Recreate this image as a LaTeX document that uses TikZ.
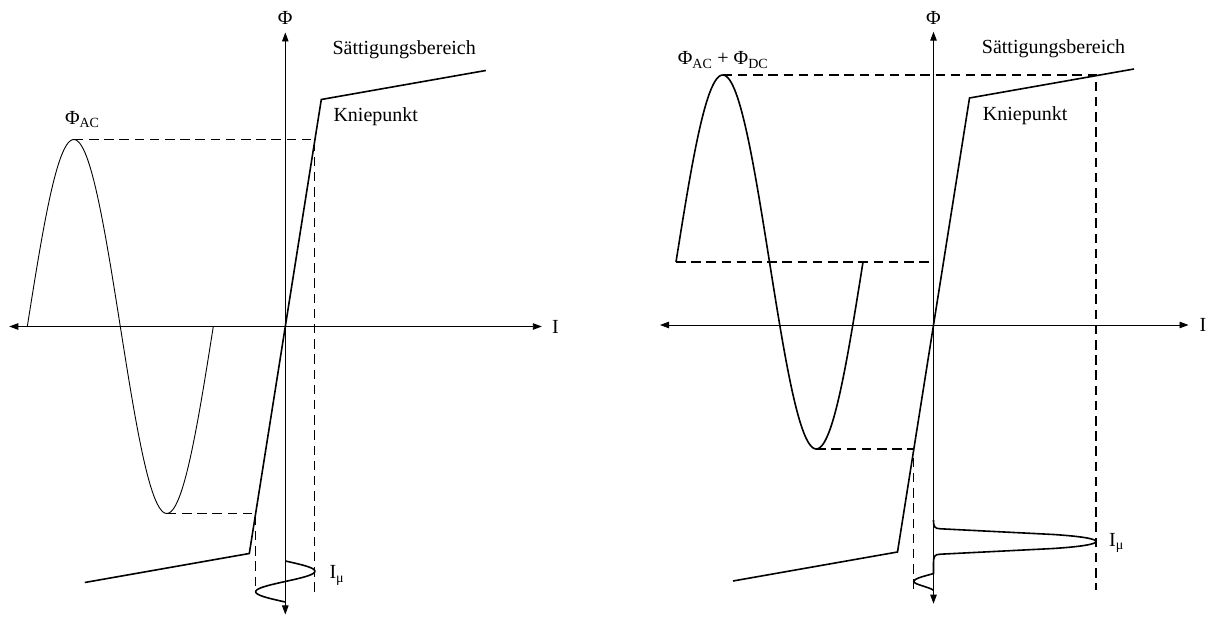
\documentclass[tikz,border=0pt]{standalone}
\usepackage{fontspec}
\setmainfont{Liberation Serif}
\usetikzlibrary{arrows.meta, positioning}
\tikzset{
    achse/.style={{Triangle[length=9pt, width=6.5pt]}-{Triangle[length=9pt, width=6.5pt]}, line width=0.9pt},
    kennlinie/.style={line width=1.6pt, line join=miter},
    fluss/.style={line width=0.9pt},
    hilfslinie/.style={line width=1.1pt, dash pattern=on 9.5pt off 5.7pt},
    txt/.style={inner sep=0pt, font=\fontsize{20}{24}\selectfont},
}

\begin{document}
\begin{tikzpicture}[x=1pt, y=1pt]
    \useasboundingbox (0,0) rectangle (1206,617);

    % AC only
    \begin{scope}[shift={(285.3,290.5)}]
        % Axes
        \coordinate (lTop) at (0,294);
        \coordinate (lBot) at (0,-288);
        \coordinate (lLeft) at (-276,0);
        \coordinate (lRight) at (256.5,0);
        \draw[achse] (lBot) -- (lTop);
        \draw[achse] (lLeft) -- (lRight);
        \node[txt, above=7.5pt of lTop] (lPhi) {Φ};
        \node[txt, right=10pt of lRight] (lI) {I};

        % Magnetisation curve
        \coordinate (lSatBot) at (-200.5,-256);
        \coordinate (lKneeBot) at (-36,-227);
        \coordinate (lKneeTop) at (36,227);
        \coordinate (lSatTop) at (200.5,256);
        \draw[kennlinie] (lSatBot) -- (lKneeBot) -- (lKneeTop) -- (lSatTop);
        \node[txt, anchor=west] (lSat) at (47,277) {Sättigungsbereich};
        \node[txt, anchor=west] (lKnie) at (48,210) {Kniepunkt};

        % Flux
        \draw[fluss] plot[domain=-258:-72, samples=120, smooth] (\x, {187*sin((\x+258)/186*360)});
        \coordinate (lPeak) at (-211.5,187);
        \coordinate (lTrough) at (-118.5,-187);
        \node[txt] (lPhiAC) at (-203,207) {Φ\textsubscript{AC}};

        % Projection
        \coordinate (lHitTop) at (29.6,187);
        \coordinate (lHitBot) at (-29.6,-187);
        \coordinate (lDropTop) at (29.6,-268);
        \coordinate (lDropBot) at (-29.6,-267);
        \draw[hilfslinie] (lPeak) -- (lHitTop) -- (lDropTop);
        \draw[hilfslinie] (lTrough) -- (lHitBot) -- (lDropBot);

        % Magnetising current
        \draw[kennlinie] plot[domain=0:41, samples=60, smooth] ({29.6*sin(\x/41*360)}, {-234.5-\x});
        \node[txt, anchor=west] (lImu) at (44,-249) {I\textsubscript{μ}};
    \end{scope}

    % AC + DC
    \begin{scope}[shift={(933.5,292)}]
        % Axes
        \coordinate (rTop) at (0,293.3);
        \coordinate (rBot) at (0,-278.7);
        \coordinate (rLeft) at (-273.5,0);
        \coordinate (rRight) at (255,0);
        \draw[achse] (rBot) -- (rTop);
        \draw[achse] (rLeft) -- (rRight);
        \node[txt, above=7pt of rTop] (rPhi) {Φ};
        \node[txt, right=11pt of rRight] (rI) {I};

        % Magnetisation curve
        \coordinate (rSatBot) at (-200.5,-256);
        \coordinate (rKneeBot) at (-36,-227);
        \coordinate (rKneeTop) at (36,227);
        \coordinate (rSatTop) at (200.5,256);
        \draw[kennlinie] (rSatBot) -- (rKneeBot) -- (rKneeTop) -- (rSatTop);
        \node[txt, anchor=west] (rSat) at (48.2,276.7) {Sättigungsbereich};
        \node[txt, anchor=west] (rKnie) at (49.2,209.3) {Kniepunkt};

        % Flux with offset
        \draw[kennlinie] plot[domain=-257.5:-70.5, samples=120, smooth] (\x, {63+187*sin((\x+257.5)/187*360)});
        \coordinate (rStart) at (-257.5,63);
        \coordinate (rPeak) at (-210.8,250);
        \coordinate (rTrough) at (-117.3,-124);
        \node[txt] (rPhiACDC) at (-210.5,265) {Φ\textsubscript{AC} + Φ\textsubscript{DC}};

        % Projection
        \coordinate (rDC) at (0,63);
        \coordinate (rHitTop) at (162.5,250);
        \coordinate (rHitBot) at (-19.7,-124);
        \coordinate (rDropTop) at (162.5,-265);
        \coordinate (rDropBot) at (-19.7,-267);
        \draw[hilfslinie] (rStart) -- (rDC);
        \draw[hilfslinie] (rPeak) -- (rHitTop) -- (rDropTop);
        \draw[hilfslinie] (rTrough) -- (rHitBot) -- (rDropBot);

        % Magnetising current
        \draw[kennlinie] (0,-195) .. controls (0,-202) and (1,-203.6) .. (7,-203.8)
            -- (120,-209.5) .. controls (150,-211.5) and (162.5,-214) .. (162.5,-216.5)
            .. controls (162.5,-219) and (150,-221.5) .. (120,-223.5)
            -- (7,-229.2) .. controls (1,-229.4) and (0,-231) .. (0,-238.5)
            -- (0,-248.5) .. controls (-4,-250) and (-19.7,-253) .. (-19.7,-256.5)
            .. controls (-19.7,-259.5) and (-4,-262) .. (0,-265.3);
        \node[txt, anchor=west] (rImu) at (175.5,-218) {I\textsubscript{μ}};
    \end{scope}
\end{tikzpicture}
\end{document}
